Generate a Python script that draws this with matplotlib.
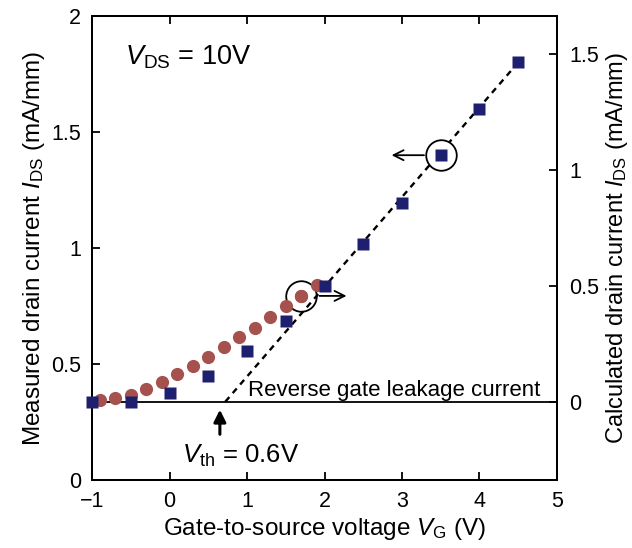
import matplotlib
matplotlib.use('Agg')
import matplotlib.pyplot as plt

# Données
vg_meas = [-1.0, -0.5, 0.0, 0.5, 1.0, 1.5, 2.0, 2.5, 3.0, 3.5, 4.0, 4.5]
ids_meas = [0.335, 0.335, 0.376, 0.448, 0.557, 0.687, 0.836, 1.017, 1.195, 1.40, 1.598, 1.80]

vg_calc = [-0.9, -0.7, -0.5, -0.3, -0.1, 0.1, 0.3, 0.5, 0.7, 0.9, 1.1, 1.3, 1.5, 1.7, 1.9]
ids_calc = [0.007, 0.015, 0.029, 0.053, 0.086, 0.118, 0.154, 0.194, 0.235, 0.278,
            0.316, 0.364, 0.412, 0.456, 0.503]

fit_vg = [0.72, 4.5]
fit_ids = [0.3375, 1.80]

x_ticks = [-1, 0, 1, 2, 3, 4, 5]
x_labels = ['\u22121', '0', '1', '2', '3', '4', '5']
left_ticks = [0, 0.5, 1, 1.5, 2]
left_labels = ['0', '0.5', '1', '1.5', '2']
right_ticks = [0, 0.5, 1, 1.5]
right_labels = ['0', '0.5', '1', '1.5']

plt.rcParams['font.family'] = ['Liberation Sans', 'DejaVu Sans']
plt.rcParams['mathtext.fontset'] = 'custom'
plt.rcParams['mathtext.rm'] = 'Liberation Sans'
plt.rcParams['mathtext.it'] = 'Liberation Sans:italic'

navy = '#1f1f70'
brown = '#a5524f'

fig = plt.figure(figsize=(6.32, 5.48), dpi=100)
ax = fig.add_axes([0.1456, 0.1241, 0.7357, 0.8467])
ax2 = ax.twinx()

ax.set_xlim(-1, 5)
ax.set_ylim(0, 2)
ax2.set_ylim(-0.3375, 1.6625)

# Courbe calculée (axe droit)
ax2.axhline(0, color='black', lw=1.3, zorder=1)
ax2.plot(vg_calc, ids_calc, 'o', color=brown, ms=9.5, mec='none', zorder=3)
ax2.plot([vg_calc[13]], [ids_calc[13]], 'o', ms=22, mfc='white', mec='black', mew=1.3, zorder=2)
ax2.plot([vg_calc[13]], [ids_calc[13]], 'o', color=brown, ms=9.5, mec='none', zorder=4)
ax2.annotate('', xy=(2.32, ids_calc[13]), xytext=(1.90, ids_calc[13]),
             arrowprops=dict(arrowstyle='->', lw=1.3, color='black',
                             mutation_scale=18), zorder=5)

# Courbe mesurée (axe gauche), au-dessus
ax.set_zorder(ax2.get_zorder() + 1)
ax.patch.set_visible(False)
ax.plot(fit_vg, fit_ids, color='black', lw=1.7, ls=(0, (2.6, 2.2)), zorder=2)
ax.plot([vg_meas[9]], [ids_meas[9]], 'o', ms=22, mfc='white', mec='black', mew=1.3, zorder=3)
ax.plot(vg_meas, ids_meas, 's', color=navy, ms=8.5, mec='none', zorder=4, clip_on=False)
ax.annotate('', xy=(2.83, ids_meas[9]), xytext=(3.32, ids_meas[9]),
            arrowprops=dict(arrowstyle='->', lw=1.3, color='black',
                            mutation_scale=18), zorder=5)

# Flèche Vth
ax.annotate('', xy=(0.65, 0.315), xytext=(0.65, 0.185),
            arrowprops=dict(arrowstyle='-|>', lw=2.2, color='black',
                            mutation_scale=18))

ax.text(-0.57, 1.793, r'$\mathit{V}_{\mathrm{DS}}$ = 10V', fontsize=19.5, va='baseline')
ax.text(0.16, 0.075, r'$\mathit{V}_{\mathrm{th}}$ = 0.6V', fontsize=18.5, va='baseline')
ax.text(4.78, 0.362, 'Reverse gate leakage current', fontsize=16, ha='right', va='baseline')

ax.set_xticks(x_ticks)
ax.set_xticklabels(x_labels)
ax.set_yticks(left_ticks)
ax.set_yticklabels(left_labels)
ax2.set_yticks(right_ticks)
ax2.set_yticklabels(right_labels)

ax.tick_params(direction='in', length=6, width=1.3, labelsize=15.5, pad=8,
               top=True)
ax.tick_params(axis='y', right=False)
ax2.tick_params(direction='in', length=6, width=1.3, labelsize=15.5, pad=9)

for a in (ax, ax2):
    for s in a.spines.values():
        s.set_linewidth(1.4)

ax.set_xlabel(r'Gate-to-source voltage $\mathit{V}_{\mathrm{G}}$ (V)', fontsize=17.5, labelpad=3)
ax.set_ylabel(r'Measured drain current $\mathit{I}_{\mathrm{DS}}$ (mA/mm)', fontsize=17.5, labelpad=3)
ax2.set_ylabel(r'Calculated drain current $\mathit{I}_{\mathrm{DS}}$ (mA/mm)', fontsize=17, labelpad=3)

plt.savefig('out.png', dpi=100)
